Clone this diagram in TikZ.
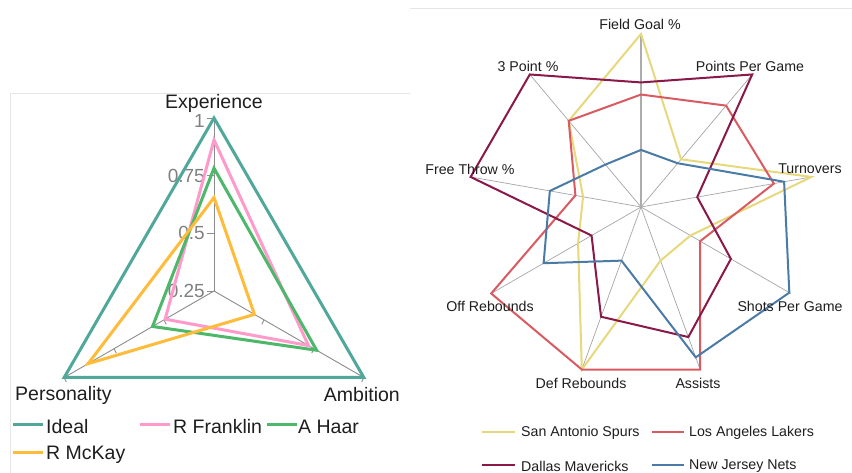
\documentclass[tikz,border=0pt]{standalone}
\usepackage{fontspec}
\setmainfont{Liberation Sans}
\definecolor{frame}{HTML}{E6E6E6}
\definecolor{ideal}{HTML}{4FA89A}
\definecolor{franklin}{HTML}{FF9ACB}
\definecolor{haar}{HTML}{4DB76A}
\definecolor{mckay}{HTML}{FFBB3A}
\definecolor{spurs}{HTML}{E8D87C}
\definecolor{lakers}{HTML}{D95B61}
\definecolor{mavs}{HTML}{8A1848}
\definecolor{nets}{HTML}{4A7BA7}
\definecolor{txt}{HTML}{1E1E1E}
\definecolor{ticktxt}{HTML}{808080}
\tikzset{
  bigtxt/.style={font=\fontsize{19.5}{22}\selectfont, text=txt, inner sep=0pt},
  ticklab/.style={font=\fontsize{19}{22}\selectfont, text=ticktxt, inner sep=0pt, anchor=east},
  smalltxt/.style={font=\fontsize{14.2}{16}\selectfont, text=txt, inner sep=0pt},
  spokeL/.style={draw=gray!90, line width=0.9pt},
  spokeR/.style={draw=gray!70, line width=0.7pt},
  serL/.style={line width=3pt, line join=miter},
  serR/.style={line width=2pt, line join=miter},
  framel/.style={draw=frame, line width=1pt}
}
\begin{document}
\begin{tikzpicture}[x=1pt,y=1pt]
\useasboundingbox (0,0) rectangle (852,473);
\fill[white] (0,0) rectangle (852,473);
% frames
\draw[framel] (10,0) -- (10,379) -- (410,379);
\draw[framel] (410,464) -- (852,464);

% ---------------- left chart ----------------
\begin{scope}[shift={(214,182)}]
  \draw[spokeL] (0,0) -- (90:173);
  \draw[spokeL] (0,0) -- (210:173);
  \draw[spokeL] (0,0) -- (-30:173);
  \foreach \r in {0,57.67,115.33,173}{
    \draw[spokeL] (-7,\r) -- (0,\r);
  }
  \node[ticklab] (t025) at (-9,0) {0.25};
  \node[ticklab] (t05) at (-9,57.67) {0.5};
  \node[ticklab] (t075) at (-9,115.33) {0.75};
  \node[ticklab] (t1) at (-9,170.5) {1};
  \foreach \r in {57.67,115.33,173}{
    \draw[spokeL] (-30:\r) -- ++(-115:5);
    \draw[spokeL] (210:\r) -- ++(-65:5);
  }
  \draw[serL, ideal] (90:173) -- (210:173) -- (-30:173) -- cycle;
  \draw[serL, franklin] (90:{0.873*173}) -- (210:{0.326*173}) -- (-30:{0.63*173}) -- cycle;
  \draw[serL, haar] (90:{0.71*173}) -- (210:{0.41*173}) -- (-30:{0.685*173}) -- cycle;
  \draw[serL, mckay] (90:{0.54*173}) -- (210:{0.84*173}) -- (-30:{0.27*173}) -- cycle;
\end{scope}
\node[bigtxt] (exp) at (214,369.5) {Experience};
\node[bigtxt, anchor=west] (pers) at (15,78) {Personality};
\node[bigtxt, anchor=east] (amb) at (400,78) {Ambition};
% left legend
\draw[serL, ideal] (13,48) -- (43,48);
\node[bigtxt, anchor=west] (lgideal) at (46,46) {Ideal};
\draw[serL, franklin] (140,48) -- (170,48);
\node[bigtxt, anchor=west] (lgfr) at (173,46) {R Franklin};
\draw[serL, haar] (267,48) -- (297,48);
\node[bigtxt, anchor=west] (lgha) at (298,46) {A Haar};
\draw[serL, mckay] (13,20) -- (43,20);
\node[bigtxt, anchor=west] (lgmc) at (46,18) {R McKay};

% ---------------- right chart ----------------
\begin{scope}[shift={(641,266)}]
  \foreach \a in {50,10,-30,-70,-110,-150,170,130}{
    \draw[spokeR] (0,0) -- (\a:173);
  }
  \draw[draw=gray!65, line width=1.4pt] (0,0) -- (90:172);
  \draw[serR, spurs] (90:173) -- (50:{.36*173}) -- (10:173) -- (-30:{.33*173}) -- (-70:{.33*173})
     -- (-110:173) -- (-150:{.42*173}) -- (170:{.34*173}) -- (130:{.65*173}) -- cycle;
  \draw[serR, lakers] (90:{.65*173}) -- (50:{.765*173}) -- (10:{.78*173}) -- (-30:{.395*173}) -- (-70:173)
     -- (-110:173) -- (-150:173) -- (170:{.385*173}) -- (130:{.65*173}) -- cycle;
  \draw[serR, mavs] (90:{.72*173}) -- (50:173) -- (10:{.33*173}) -- (-30:{.6*173}) -- (-70:{.8*173})
     -- (-110:{.675*173}) -- (-150:{.33*173}) -- (170:173) -- (130:173) -- cycle;
  \draw[serR, nets] (90:{.33*173}) -- (50:{.33*173}) -- (10:{.84*173}) -- (-30:{.99*173}) -- (-70:{.925*173})
     -- (-110:{.33*173}) -- (-150:{.65*173}) -- (170:{.535*173}) -- (130:{.32*173}) -- cycle;
\end{scope}
\node[smalltxt] (fg) at (640,449) {Field Goal \%};
\node[smalltxt] (ppg) at (750,407) {Points Per Game};
\node[smalltxt] (tp) at (528,407) {3 Point \%};
\node[smalltxt] (to) at (810,304) {Turnovers};
\node[smalltxt] (ft) at (470,304) {Free Throw \%};
\node[smalltxt] (spg) at (790,167) {Shots Per Game};
\node[smalltxt] (off) at (490,167) {Off Rebounds};
\node[smalltxt] (def) at (581,90) {Def Rebounds};
\node[smalltxt] (ast) at (698,90) {Assists};
% right legend
\draw[serR, spurs] (482,41) -- (515,41);
\node[smalltxt, anchor=west] (lgsp) at (521,40) {San Antonio Spurs};
\draw[serR, lakers] (652,41) -- (684,41);
\node[smalltxt, anchor=west] (lgla) at (689,40) {Los Angeles Lakers};
\draw[serR, mavs] (482,8) -- (515,8);
\node[smalltxt, anchor=west] (lgda) at (521,7) {Dallas Mavericks};
\draw[serR, nets] (652,8) -- (684,8);
\node[smalltxt, anchor=west] (lgnj) at (689,7) {New Jersey Nets};
\end{tikzpicture}
\end{document}
